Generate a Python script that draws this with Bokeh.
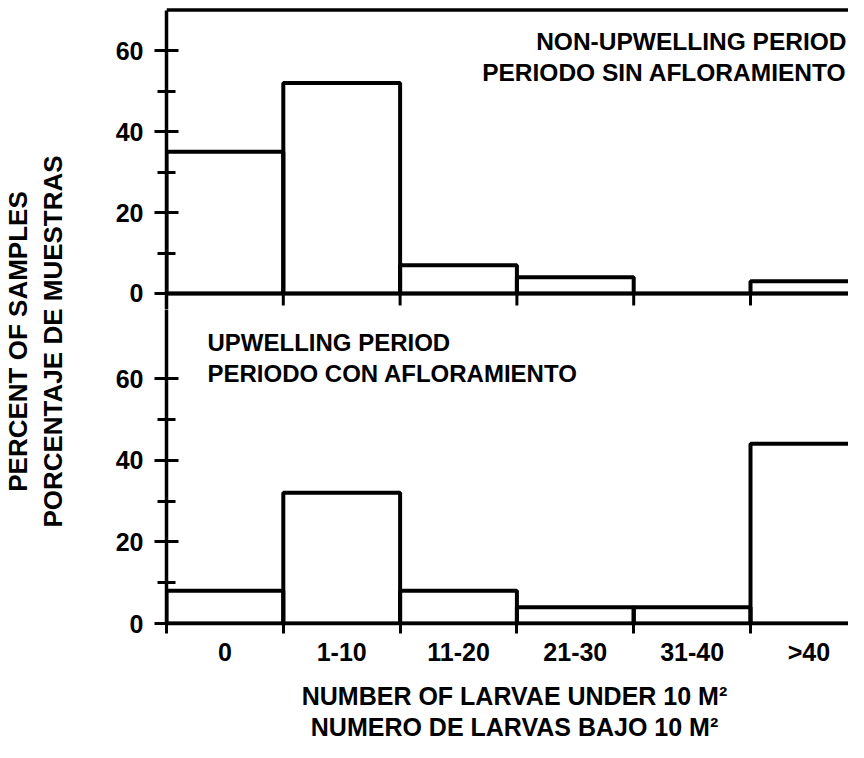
from math import pi

from bokeh.plotting import figure
from bokeh.layouts import row, column
from bokeh.models import Range1d, LinearAxis, FixedTicker, Span, Label
from bokeh.embed import file_html
from bokeh.resources import INLINE

# ---- data ----
categories = ["0", "1-10", "11-20", "21-30", "31-40", ">40"]
non_upwelling = [35, 52, 7, 4, 0, 3]      # percent of samples, non-upwelling period
upwelling = [8, 32, 8, 4, 4, 44]          # percent of samples, upwelling period
y_ticks = [0, 20, 40, 60]
y_minor_ticks = [10, 30, 50]

top_text = ["NON-UPWELLING PERIOD", "PERIODO SIN AFLORAMIENTO"]
bottom_text = ["UPWELLING PERIOD", "PERIODO CON AFLORAMIENTO"]
x_title = ["NUMBER OF LARVAE UNDER 10 M\u00b2", "NUMERO DE LARVAS BAJO 10 M\u00b2"]
y_title = ["PERCENT OF SAMPLES", "PORCENTAJE DE MUESTRAS"]

FONT = "Liberation Sans"
LW = 4

bin_left = list(range(len(categories)))
bin_right = [b + 1 for b in bin_left]
bin_center = [b + 0.5 for b in bin_left]

TOTAL_W, TOTAL_H = 848, 742
TITLE_W = 90                 # strip holding the rotated y title
PANEL_W = TOTAL_W - TITLE_W
LEFT = 76                    # border left of the panels' frames
TOP_H = 309                  # upper panel figure height
BOT_FRAME = 314              # lower panel frame height
BOT_BORDER = 46
XT_H = TOTAL_H - TOP_H - BOT_FRAME - BOT_BORDER

TOP_LO = -3.951              # upper panel range (room under its baseline)
TOP_HI = 72.35
BOT_HI = 76.9

x_range = Range1d(0, 5.839)


def base_fig(width, height, **kw):
    f = figure(width=width, height=height, output_backend="svg", toolbar_location=None,
               min_border_top=0, min_border_right=0, **kw)
    f.outline_line_color = None
    f.background_fill_color = "white"
    f.border_fill_color = "white"
    return f


def style_y(ax, bounds):
    ax.ticker = FixedTicker(ticks=y_ticks, minor_ticks=y_minor_ticks)
    ax.bounds = bounds
    ax.axis_line_width = 3.5
    ax.axis_line_color = "black"
    ax.major_tick_in = 12
    ax.major_tick_out = 12
    ax.minor_tick_in = 9
    ax.minor_tick_out = 9
    ax.major_tick_line_width = 3
    ax.minor_tick_line_width = 3
    ax.major_tick_line_color = "black"
    ax.minor_tick_line_color = "black"
    ax.major_label_text_font = FONT
    ax.major_label_text_font_style = "bold"
    ax.major_label_text_font_size = "25px"
    ax.major_label_text_color = "black"
    ax.major_label_standoff = 11


def text(f, t, x, y, size, align="left", angle=0.0):
    f.add_layout(Label(text=t, x=x, y=y, x_units="screen", y_units="screen",
                       angle=angle, text_align=align, text_baseline="middle",
                       text_font=FONT, text_font_style="bold",
                       text_font_size=size, text_color="black"))


# ---------------- upper panel: non-upwelling ----------------
top = base_fig(PANEL_W, TOP_H, x_range=x_range, y_range=Range1d(TOP_LO, TOP_HI),
               min_border_left=LEFT, min_border_bottom=0,
               x_axis_location=None, y_axis_location="left")
top.xgrid.visible = False
top.ygrid.visible = False
style_y(top.yaxis[0], (TOP_LO, 70))
top.add_layout(Span(location=70, dimension="width", line_color="black", line_width=3.5))
top.add_layout(Span(location=0, dimension="width", line_color="black", line_width=3.5))
top.quad(left=bin_left, right=bin_right, bottom=0, top=non_upwelling,
         fill_color=None, line_color="black", line_width=LW)
# bin-edge ticks hanging below the upper baseline
top.segment(x0=bin_left[1:], x1=bin_left[1:], y0=0, y1=-2.96,
            line_color="black", line_width=3)
text(top, top_text[0], 680, TOP_H - 41, "24.5px", align="right")
text(top, top_text[1], 680, TOP_H - 72, "24.5px", align="right")

# ---------------- lower panel: upwelling ----------------
bot = base_fig(PANEL_W, BOT_FRAME + BOT_BORDER, x_range=x_range, y_range=Range1d(0, BOT_HI),
               min_border_left=LEFT, min_border_bottom=BOT_BORDER,
               x_axis_location=None, y_axis_location="left")
bot.xgrid.visible = False
bot.ygrid.visible = False
style_y(bot.yaxis[0], (0, BOT_HI))
xax = LinearAxis(
    ticker=FixedTicker(ticks=bin_center, minor_ticks=bin_left),
    major_label_overrides={c: lab for c, lab in zip(bin_center, categories)},
    axis_line_width=3.5, axis_line_color="black",
    major_tick_in=0, major_tick_out=0,
    minor_tick_in=0, minor_tick_out=10, minor_tick_line_width=3, minor_tick_line_color="black",
    major_label_text_font=FONT, major_label_text_font_style="bold",
    major_label_text_font_size="25px", major_label_text_color="black",
    major_label_standoff=4)
bot.add_layout(xax, "below")
bot.quad(left=bin_left, right=bin_right, bottom=0, top=upwelling,
         fill_color=None, line_color="black", line_width=LW)
text(bot, bottom_text[0], 41, 623 - 342, "24px")
text(bot, bottom_text[1], 41, 623 - 373, "24px")

# ---------------- x title strip ----------------
xt = base_fig(PANEL_W, XT_H, x_range=Range1d(0, 1), y_range=Range1d(0, 1),
              min_border_left=LEFT, min_border_bottom=0,
              x_axis_location=None, y_axis_location=None)
xt.xgrid.visible = False
xt.ygrid.visible = False
text(xt, x_title[0], 348, XT_H - 26, "25px", align="center")
text(xt, x_title[1], 348, XT_H - 57, "25px", align="center")

# ---------------- y title strip ----------------
yt = base_fig(TITLE_W, TOTAL_H, x_range=Range1d(0, 1), y_range=Range1d(0, 1),
              min_border_left=0, min_border_bottom=0,
              x_axis_location=None, y_axis_location=None)
yt.xgrid.visible = False
yt.ygrid.visible = False
text(yt, y_title[0], 17, TOTAL_H - 341, "26px", align="center", angle=pi / 2)
text(yt, y_title[1], 52, TOTAL_H - 341, "26px", align="center", angle=pi / 2)

layout = row(yt, column(top, bot, xt, spacing=0), spacing=0)

open("out.html", "w").write(file_html(layout, INLINE))
